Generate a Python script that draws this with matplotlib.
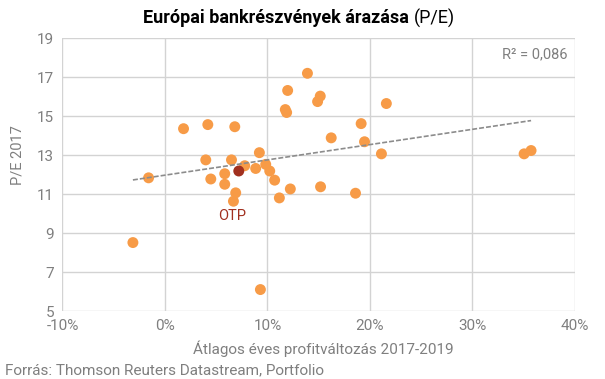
import numpy as np
import matplotlib
matplotlib.use('Agg')
import matplotlib.pyplot as plt

plt.rcParams['font.family'] = ['Roboto', 'DejaVu Sans']

# average annual profit change 2017-2019 (%) and P/E 2017
profit = [13.9, 11.97, 11.74, 11.87, 1.81, 4.18, 6.81, 9.21, 3.98, 6.49,
          7.78, 8.85, 9.83, 10.22, 10.7, 12.23, -1.6, 4.47, 5.83, 5.83,
          6.9, 6.68, -3.13, 9.31, 11.16, 15.15, 14.89, 21.6, 19.14, 16.22,
          19.47, 21.12, 35.04, 35.72, 15.18, 18.59]
pe = [17.19, 16.31, 15.33, 15.18, 14.35, 14.56, 14.45, 13.12, 12.75, 12.75,
      12.45, 12.31, 12.52, 12.18, 11.71, 11.26, 11.83, 11.77, 12.04, 11.5,
      11.06, 10.63, 8.51, 6.1, 10.8, 16.02, 15.74, 15.64, 14.61, 13.88,
      13.68, 13.06, 13.06, 13.23, 11.37, 11.04]
otp_profit = 7.2
otp_pe = 12.18

xticks = [-10, 0, 10, 20, 30, 40]
yticks = [5, 7, 9, 11, 13, 15, 17, 19]

orange = '#F79B47'
darkred = '#A1301F'
grey = '#7F7F7F'
gridc = '#D3D3D3'

fig = plt.figure(figsize=(6.05, 3.79), dpi=100)
ax = fig.add_axes([0.1033, 0.1794, 0.847, 0.7203])

all_x = np.array(profit + [otp_profit])
all_y = np.array(pe + [otp_pe])
k, b = np.polyfit(all_x, all_y, 1)
xs = np.array([all_x.min(), all_x.max()])
ax.plot(xs, k * xs + b, ls='--', color='#8C8C8C', lw=1.2, dashes=(3, 1.2), zorder=3)

ax.scatter(profit, pe, s=62, color=orange, edgecolors='none', zorder=2)
ax.scatter([otp_profit], [otp_pe], s=62, color=darkred, edgecolors='none', zorder=4)
ax.text(6.6, 9.85, 'OTP', color=darkred, fontsize=10.5, ha='center', va='center')

ax.set_xlim(-10, 40)
ax.set_ylim(5, 19)
ax.set_xticks(xticks, [f'{t}%' for t in xticks])
ax.set_yticks(yticks)
ax.grid(True, color=gridc, lw=1)
ax.set_axisbelow(True)
for s in ax.spines.values():
    s.set_visible(False)
ax.tick_params(length=0, colors=grey, labelsize=11, pad=6)
for lab in ax.get_xticklabels() + ax.get_yticklabels():
    lab.set_color(grey)

ax.text(0.985, 0.94, 'R² = 0,086', transform=ax.transAxes, ha='right', va='center',
        color=grey, fontsize=10.5)

fig.text(0.535, 1 - 349 / 379, 'Átlagos éves profitváltozás 2017-2019', ha='center',
         va='center', color=grey, fontsize=11)
fig.text(17 / 605, 1 - 155 / 379, 'P/E 2017', rotation=90, ha='center', va='center',
         color=grey, fontsize=10.5)
fig.text(5 / 605, 1 - 370 / 379, 'Forrás: Thomson Reuters Datastream, Portfolio',
         ha='left', va='center', color=grey, fontsize=11)

# title: bold part + normal part
fig.canvas.draw()
r = fig.canvas.get_renderer()
t1 = fig.text(0, 1 - 18 / 379, 'Európai bankrészvények árazása ', fontsize=13,
              fontweight='bold', va='center', color='black')
t2 = fig.text(0, 1 - 18 / 379, '(P/E)', fontsize=13, va='center', color='black')
w1 = t1.get_window_extent(r).width
w2 = t2.get_window_extent(r).width
x0 = 299 - (w1 + w2) / 2
t1.set_x(x0 / 605)
t2.set_x((x0 + w1) / 605)

fig.savefig('out.png', dpi=100)
